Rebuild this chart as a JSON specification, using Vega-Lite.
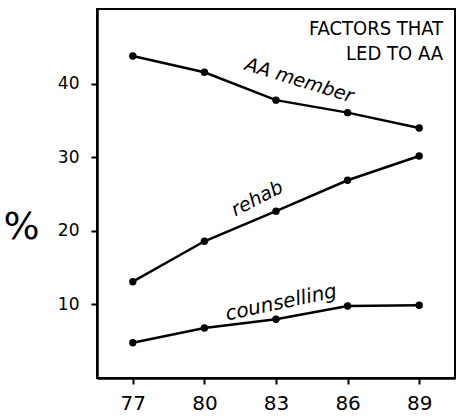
{
  "$schema": "https://vega.github.io/schema/vega-lite/v6.json",
  "width": 358,
  "height": 369,
  "autosize": {"type": "none"},
  "padding": {"left": 97, "top": 9, "right": 5, "bottom": 41},
  "background": "white",
  "config": {
    "view": {"stroke": "black", "strokeWidth": 2},
    "font": "DejaVu Sans"
  },
  "datasets": {
    "series": [
      {"year": 77, "value": 43.8, "factor": "AA member"},
      {"year": 80, "value": 41.6, "factor": "AA member"},
      {"year": 83, "value": 37.8, "factor": "AA member"},
      {"year": 86, "value": 36.1, "factor": "AA member"},
      {"year": 89, "value": 34.0, "factor": "AA member"},
      {"year": 77, "value": 13.1, "factor": "rehab"},
      {"year": 80, "value": 18.6, "factor": "rehab"},
      {"year": 83, "value": 22.7, "factor": "rehab"},
      {"year": 86, "value": 26.9, "factor": "rehab"},
      {"year": 89, "value": 30.2, "factor": "rehab"},
      {"year": 77, "value": 4.8, "factor": "counselling"},
      {"year": 80, "value": 6.8, "factor": "counselling"},
      {"year": 83, "value": 8.0, "factor": "counselling"},
      {"year": 86, "value": 9.8, "factor": "counselling"},
      {"year": 89, "value": 9.9, "factor": "counselling"}
    ]
  },
  "layer": [
    {
      "data": {"name": "series"},
      "mark": {"type": "line", "color": "black", "strokeWidth": 2.5},
      "encoding": {
        "x": {
          "field": "year", "type": "quantitative",
          "scale": {"domain": [75.5, 90.5], "nice": false, "zero": false},
          "axis": {
            "values": [77, 80, 83, 86, 89], "title": null, "grid": false,
            "domainColor": "black", "domainWidth": 2.5,
            "tickColor": "black", "tickWidth": 2, "tickSize": 6,
            "labelColor": "black", "labelFontSize": 20, "labelPadding": 9
          }
        },
        "y": {
          "field": "value", "type": "quantitative",
          "scale": {"domain": [0, 50.2], "nice": false},
          "axis": {
            "values": [10, 20, 30, 40], "grid": false, "title": "%",
            "titleAngle": 0, "titleFontSize": 38, "titleFontWeight": "normal",
            "titleColor": "black", "titleX": -76, "titleY": 218,
            "titleAlign": "center", "titleBaseline": "middle",
            "domainColor": "black", "domainWidth": 2.5,
            "tickColor": "black", "tickWidth": 2, "tickSize": 6,
            "labelColor": "black", "labelFontSize": 17, "labelPadding": 12
          }
        },
        "detail": {"field": "factor"}
      }
    },
    {
      "data": {"name": "series"},
      "mark": {"type": "point", "filled": true, "color": "black", "size": 55, "opacity": 1},
      "encoding": {
        "x": {"field": "year", "type": "quantitative"},
        "y": {"field": "value", "type": "quantitative"}
      }
    },
    {
      "data": {"values": [{"year": 83.85, "value": 39.2, "label": "AA member"}]},
      "mark": {"type": "text", "angle": 17, "fontSize": 19, "fontStyle": "italic", "color": "black", "align": "center", "baseline": "bottom"},
      "encoding": {
        "x": {"field": "year", "type": "quantitative"},
        "y": {"field": "value", "type": "quantitative"},
        "text": {"field": "label"}
      }
    },
    {
      "data": {"values": [{"year": 82.4, "value": 23.2, "label": "rehab"}]},
      "mark": {"type": "text", "angle": -27, "fontSize": 19, "fontStyle": "italic", "color": "black", "align": "center", "baseline": "bottom"},
      "encoding": {
        "x": {"field": "year", "type": "quantitative"},
        "y": {"field": "value", "type": "quantitative"},
        "text": {"field": "label"}
      }
    },
    {
      "data": {"values": [{"year": 83.3, "value": 8.9, "label": "counselling"}]},
      "mark": {"type": "text", "angle": -12, "fontSize": 20, "fontStyle": "italic", "color": "black", "align": "center", "baseline": "bottom"},
      "encoding": {
        "x": {"field": "year", "type": "quantitative"},
        "y": {"field": "value", "type": "quantitative"},
        "text": {"field": "label"}
      }
    },
    {
      "data": {"values": [{"year": 90.0, "value": 48.8, "label": "FACTORS THAT\nLED TO AA"}]},
      "mark": {"type": "text", "lineBreak": "\n", "fontSize": 20, "lineHeight": 25, "color": "black", "align": "right", "baseline": "top", "font": "DejaVu Sans Condensed"},
      "encoding": {
        "x": {"field": "year", "type": "quantitative"},
        "y": {"field": "value", "type": "quantitative"},
        "text": {"field": "label"}
      }
    }
  ]
}
